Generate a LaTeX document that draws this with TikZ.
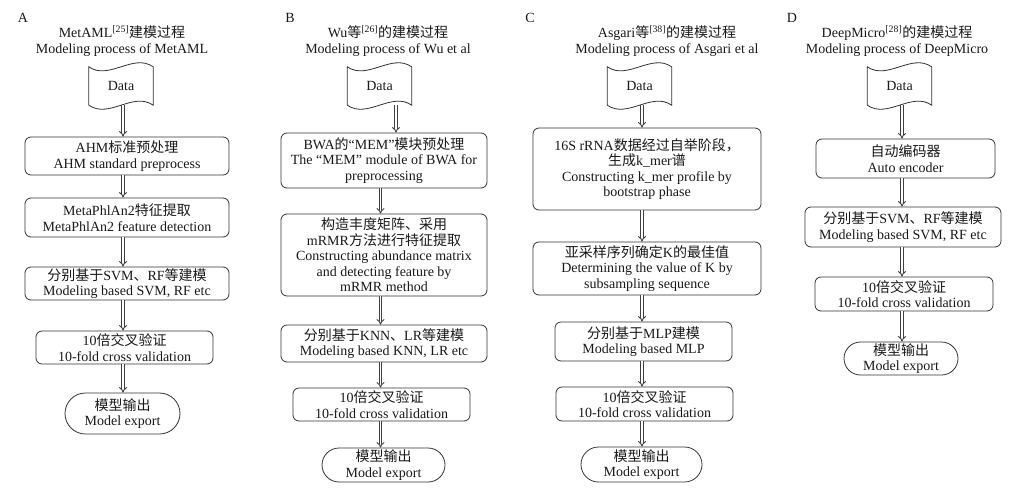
\documentclass[tikz,border=0pt]{standalone}
\usepackage{fontspec}
\setmainfont{Liberation Serif}
\newfontfamily\cjk{Noto Sans CJK SC}
\usetikzlibrary{arrows.meta,shapes.misc}

\tikzset{
  txt/.style={font=\fontsize{14pt}{15.5pt}\selectfont, text=black!90, align=center, inner sep=0pt},
  stepbox/.style={txt, draw=black!80, line width=0.8pt, rounded corners=6pt},
  endbox/.style={txt, draw=black!80, line width=0.8pt, rounded rectangle},
  databox/.style={txt, minimum width=64pt, minimum height=38pt},
  dar/.style={double=white, double distance=1.8pt, line width=0.9pt, draw=black!75, -{Implies}},
}
% wavy data shape round a node
\newcommand\tapeshape[1]{
  \draw[line width=0.8pt, draw=black!80] (#1.north west) .. controls +(20,-14) and +(-20,14) .. (#1.north east)
    -- (#1.south east) .. controls +(-20,14) and +(20,-14) .. (#1.south west) -- cycle;
}

\begin{document}
\begin{tikzpicture}[x=1pt,y=1pt]
        \useasboundingbox (0,0) rectangle (1015,-501);

        % A
        \node[txt] (lblA) at (23,-18) {A};
        \node[txt, font=\fontsize{14pt}{16pt}\selectfont] (titleA) at (122,-41) {MetAML\textsuperscript{[25]}{\cjk 建模过程}\\Modeling process of MetAML};
        \node[databox] (dataA) at (121,-86) {Data};
        \tapeshape{dataA}
        \node[stepbox, minimum width=204pt, minimum height=38pt] (A1) at (127,-156) {AHM{\cjk 标准预处理}\\AHM standard preprocess};
        \node[stepbox, minimum width=204pt, minimum height=39pt] (A2) at (127,-217.5) {MetaPhlAn2{\cjk 特征提取}\\MetaPhlAn2 feature detection};
        \node[stepbox, minimum width=204pt, minimum height=33pt] (A3) at (127,-283.5) {{\cjk 分别基于}SVM{\cjk 、}RF{\cjk 等建模}\\Modeling based SVM, RF etc};
        \node[stepbox, minimum width=177pt, minimum height=33pt] (A4) at (124.5,-347.5) {10{\cjk 倍交叉验证}\\10-fold cross validation};
        \node[endbox, minimum width=115pt, minimum height=41pt] (A5) at (122.5,-413.5) {{\cjk 模型输出}\\Model export};
        \coordinate (arA) at (123,0);
        \foreach \u/\v in {dataA/A1, A1/A2, A2/A3, A3/A4, A4/A5}
                \draw[dar] (\u.south -| arA) -- (\v.north -| arA);

        % B
        \node[txt] (lblB) at (290,-18) {B};
        \node[txt, font=\fontsize{14pt}{16pt}\selectfont] (titleB) at (388,-41) {Wu{\cjk 等}\textsuperscript{[26]}{\cjk 的建模过程}\\Modeling process of Wu et al};
        \node[databox] (dataB) at (379.5,-86) {Data};
        \tapeshape{dataB}
        \node[stepbox, minimum width=206pt, minimum height=55pt] (B1) at (384,-160.5) {BWA{\cjk 的}“MEM”{\cjk 模块预处理}\\The “MEM” module of BWA for\\preprocessing};
        \node[stepbox, minimum width=206pt, minimum height=82pt] (B2) at (384,-255) {{\cjk 构造丰度矩阵、采用}\\mRMR{\cjk 方法进行特征提取}\\Constructing abundance matrix\\and detecting feature by\\mRMR method};
        \node[stepbox, minimum width=206pt, minimum height=37pt] (B3) at (384,-343.5) {{\cjk 分别基于}KNN{\cjk 、}LR{\cjk 等建模}\\Modeling based KNN, LR etc};
        \node[stepbox, minimum width=177pt, minimum height=33pt] (B4) at (381.5,-404.5) {10{\cjk 倍交叉验证}\\10-fold cross validation};
        \node[endbox, minimum width=123pt, minimum height=34pt] (B5) at (383.5,-465) {{\cjk 模型输出}\\Model export};
        \coordinate (arB0) at (396,0);
        \coordinate (arB) at (380.5,0);
        \draw[dar] (dataB.south -| arB0) -- (B1.north -| arB0);
        \foreach \u/\v in {B1/B2, B2/B3, B3/B4, B4/B5}
                \draw[dar] (\u.south -| arB) -- (\v.north -| arB);

        % C
        \node[txt] (lblC) at (530,-18) {C};
        \node[txt, font=\fontsize{14pt}{16pt}\selectfont] (titleC) at (667,-41) {Asgari{\cjk 等}\textsuperscript{[38]}{\cjk 的建模过程}\\Modeling process of Asgari et al};
        \node[databox] (dataC) at (639.5,-86) {Data};
        \tapeshape{dataC}
        \node[stepbox, minimum width=228pt, minimum height=82pt] (C1) at (647,-169) {16S rRNA{\cjk 数据经过自举阶段，}\\{\cjk 生成}k\_mer{\cjk 谱}\\Constructing k\_mer profile by\\bootstrap phase};
        \node[stepbox, minimum width=228pt, minimum height=53pt] (C2) at (647,-268.5) {{\cjk 亚采样序列确定}K{\cjk 的最佳值}\\Determining the value of K by\\subsampling sequence};
        \node[stepbox, minimum width=177pt, minimum height=39pt] (C3) at (643.5,-341.5) {{\cjk 分别基于}MLP{\cjk 建模}\\Modeling based MLP};
        \node[stepbox, minimum width=177pt, minimum height=34pt] (C4) at (644.5,-404) {10{\cjk 倍交叉验证}\\10-fold cross validation};
        \node[endbox, minimum width=121pt, minimum height=35pt] (C5) at (641.5,-464.5) {{\cjk 模型输出}\\Model export};
        \coordinate (arC) at (642,0);
        \foreach \u/\v in {dataC/C1, C1/C2, C2/C3, C3/C4, C4/C5}
                \draw[dar] (\u.south -| arC) -- (\v.north -| arC);

        % D
        \node[txt] (lblD) at (792,-18) {D};
        \node[txt, font=\fontsize{14pt}{16pt}\selectfont] (titleD) at (897,-41) {DeepMicro\textsuperscript{[28]}{\cjk 的建模过程}\\Modeling process of DeepMicro};
        \node[databox] (dataD) at (899.5,-86) {Data};
        \tapeshape{dataD}
        \node[stepbox, minimum width=179pt, minimum height=39pt] (D1) at (905.5,-158.5) {{\cjk 自动编码器}\\Auto encoder};
        \node[stepbox, minimum width=196pt, minimum height=40pt] (D2) at (903,-227) {{\cjk 分别基于}SVM{\cjk 、}RF{\cjk 等建模}\\Modeling based SVM, RF etc};
        \node[stepbox, minimum width=178pt, minimum height=34pt] (D3) at (904,-294) {10{\cjk 倍交叉验证}\\10-fold cross validation};
        \node[endbox, minimum width=114pt, minimum height=33pt] (D4) at (901,-358.5) {{\cjk 模型输出}\\Model export};
        \coordinate (arD) at (902,0);
        \foreach \u/\v in {dataD/D1, D1/D2, D2/D3, D3/D4}
                \draw[dar] (\u.south -| arD) -- (\v.north -| arD);
\end{tikzpicture}
\end{document}
